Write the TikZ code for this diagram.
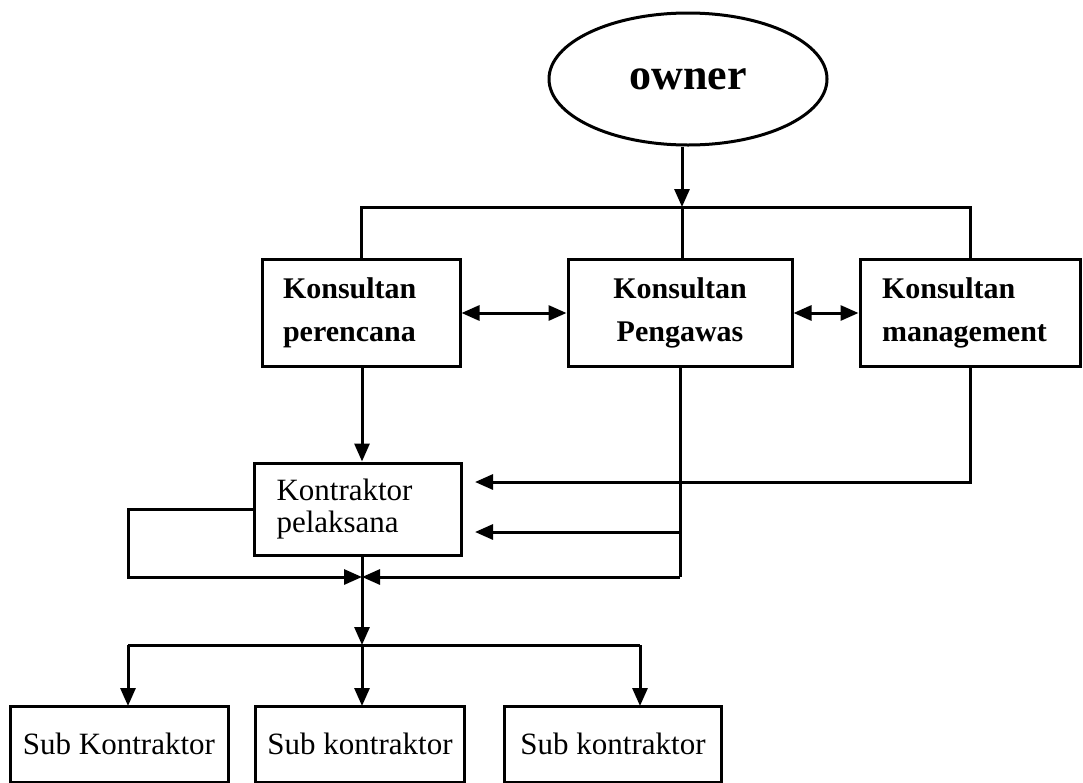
\documentclass[tikz,border=0pt]{standalone}
\usepackage{fontspec}
\setmainfont{Liberation Serif}
\usetikzlibrary{arrows.meta, shapes.geometric}

\begin{document}
\begin{tikzpicture}
        [
            x=1pt, y=-1pt,
            line width=3pt,
            every node/.style={
                draw,
                line width=3pt,
                inner sep=0pt
            },
            konsultan/.style={
                rectangle,
                font=\fontsize{30}{43}\selectfont\bfseries
            },
            kontraktor/.style={
                rectangle,
                font=\fontsize{31}{32}\selectfont
            },
            link/.style={
                draw,
                -{Triangle[length=18pt,width=15pt]}
            },
            twoway/.style={
                draw,
                {Triangle[length=18pt,width=15pt]}-{Triangle[length=18pt,width=15pt]}
            }
         ]
        \useasboundingbox (0,0) rectangle (1083,782);
        \node[ellipse, minimum width=278pt, minimum height=132pt,
              font=\fontsize{44}{44}\selectfont\bfseries] (owner) at (688,79) {owner};
        \node[konsultan, minimum width=198pt, minimum height=107pt,
              text width=156pt, align=left] (perencana) at (361,313) {Konsultan\\perencana};
        \node[konsultan, minimum width=224pt, minimum height=107pt,
              align=center] (pengawas) at (680,313) {Konsultan\\Pengawas};
        \node[konsultan, minimum width=220pt, minimum height=107pt,
              text width=176pt, align=left] (management) at (970,313) {Konsultan\\management};
        \node[kontraktor, minimum width=207pt, minimum height=92pt,
              text width=163pt, align=left] (pelaksana) at (358,509) {Kontraktor\\pelaksana};
        \node[kontraktor, minimum width=218pt, minimum height=76pt] (sub1) at (119,744) {Sub Kontraktor};
        \node[kontraktor, minimum width=209pt, minimum height=76pt] (sub2) at (360,744) {Sub kontraktor};
        \node[kontraktor, minimum width=217pt, minimum height=76pt] (sub3) at (613,744) {Sub kontraktor};

        % owner ke konsultan
        \coordinate (top) at (682,207);
        \draw[link] (owner.south -| top) -- (top);
        \draw (perencana.north) |- (top) -| (management.north);
        \draw (top) -- (pengawas.north -| top);
        \draw[twoway] (perencana.east) -- (pengawas.west);
        \draw[twoway] (pengawas.east) -- (management.west);

        % konsultan ke kontraktor
        \coordinate (join) at (362,577);
        \coordinate (loop) at (128,577);
        \draw[link] (perencana.south -| join) -- (pelaksana.north -| join);
        \draw[link] (management.south) |- ([xshift=12pt]pelaksana.east |- 0,482);
        \draw (pengawas.south) -- (pengawas.south |- join);
        \draw[link] (pengawas.south |- join) -- (join);
        \draw[link] (pengawas.south |- 0,532) -- ([xshift=12pt]pelaksana.east |- 0,532);
        \draw[link] (pelaksana.west) -| (loop) -- (join);

        % kontraktor ke sub kontraktor
        \coordinate (bar) at (362,645);
        \draw[link] (pelaksana.south -| join) -- (bar);
        \draw (128,645) -- (640,645);
        \draw[link] (128,645) -- (128,706);
        \draw[link] (bar) -- (362,706);
        \draw[link] (640,645) -- (640,706);
    \end{tikzpicture}
\end{document}
